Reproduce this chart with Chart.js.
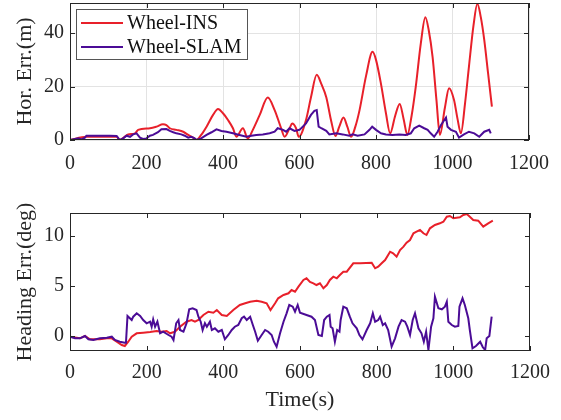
<!DOCTYPE html>
<html>
<head>
<meta charset="utf-8">
<script src="https://cdn.jsdelivr.net/npm/chart.js@4.4.0/dist/chart.umd.min.js"></script>
<style>
  html, body { margin: 0; padding: 0; background: #fff; overflow: hidden; }
  #wrap { position: relative; width: 561px; height: 420px; overflow: hidden; }
  .pane { position: absolute; left: 0; width: 561px; }
</style>
</head>
<body>
<div id="wrap">
  <div class="pane" style="top:-15px"><canvas id="horChart" width="561" height="200"></canvas></div>
  <div class="pane" style="top:190px"><canvas id="headChart" width="561" height="230"></canvas></div>
</div>
<script>
// tick labels
const timeTicks = [0, 200, 400, 600, 800, 1000, 1200];
const horTicks = [0, 20, 40];
const headTicks = [0, 5, 10];

// horizontal error (m)
const horInsTime = [0,43,122,130,143,152,170,178,209,226,243,252,261,278,296,309,322,330,343,357,374,387,400,413,426,435,452,465,478,496,517,535,552,561,574,581,591,598,617,630,645,657,670,683,694,704,715,725,735,746,757,774,791,800,813,826,837,850,862,872,882,893,904,917,929,938,948,958,967,980,991,1004,1013,1022,1033,1043,1055,1065,1074,1083,1093,1103];
const horIns = [0,1.2,1.2,0,1.2,2.1,2.5,3.8,4.4,5,5.9,5.6,4.4,3.8,3.1,1.9,0.9,0,1.9,5,9.4,11.6,10,7.5,4.4,1.2,4.4,0.6,3.8,9.4,15.9,11.2,4.4,1.2,4.4,6.2,4.4,1.2,7.5,16,24.4,21,16,7,1.5,5,8.4,5,1.2,5,11.2,24,33,30,21,10,2.5,9,13.5,8,1.9,9,20,36,46,41,31,15,1.9,12,19.4,15,8,2.5,14,27.5,43,51,46,37.5,25,12.5];
const horSlamTime = [0,13,22,30,39,43,104,122,130,139,148,157,165,174,183,191,200,209,217,230,239,252,261,270,278,291,300,309,317,326,330,343,357,370,383,396,409,426,443,461,474,487,504,522,535,543,557,565,574,587,600,617,630,639,645,650,657,670,678,696,713,730,739,752,770,783,790,800,813,826,843,861,878,891,900,913,926,935,943,952,961,970,983,987,996,1009,1017,1030,1043,1057,1070,1083,1096,1100];
const horSlam = [0,0.4,0.6,0.2,0.9,1.6,1.6,1.5,0,0.6,1.6,1.2,2.1,2.5,0.9,0.4,0.6,1.6,1.9,2.9,4,4.1,3.4,2.9,2.5,2.1,1.6,0.9,1.2,0.6,0,0.6,1.9,2.9,4,3.4,3.1,2.5,1.9,1.2,1.6,1.9,2.1,2.5,3.1,4.4,3.8,3.1,4.4,3.4,3.8,6.2,9.4,10.9,11.2,5,4.4,3.4,2.1,2.5,2.1,1.6,2.1,1.6,2.1,3.8,5,3.8,2.5,2.1,1.9,2.1,1.9,2.5,4.4,5.4,4.4,3.8,2.5,1.2,3.1,5.6,8.4,5,3.8,3.1,0.9,2.1,3.1,2.5,1.2,3.1,3.8,2.5];

// heading error (deg)
const headInsTime = [0,26,39,52,78,96,109,122,135,143,152,161,174,191,209,226,239,252,261,274,287,304,317,326,335,348,361,374,383,396,409,426,443,457,470,487,500,513,523,535,543,557,570,578,587,596,609,617,626,635,643,652,661,670,678,687,696,704,713,722,739,757,787,796,804,813,822,835,843,852,861,870,878,887,896,904,913,922,930,939,952,965,974,983,991,1000,1017,1026,1035,1043,1052,1065,1078,1091,1103];
const headIns = [-0.07,-0.23,0,-0.33,-0.33,-0.23,-0.23,-0.57,-0.9,-1.0,-0.57,-0.07,0.27,0.33,0.4,0.5,0.43,0.5,0.27,0.43,0.93,1.43,1.6,1.43,1.6,2.1,2.43,2.33,2.6,2.1,2.0,2.6,3.1,3.27,3.43,3.53,3.43,3.27,2.6,3.27,3.77,4.1,4.27,4.6,4.43,4.93,5.6,5.77,5.4,5.27,5.1,5.27,4.77,5.1,5.6,5.93,5.77,6.1,6.43,6.43,7.27,7.27,7.33,6.77,6.93,7.27,7.6,8.43,8.27,7.93,8.6,8.93,9.33,9.6,10.27,10.43,10.6,10.27,10.1,10.77,11.1,11.27,11.43,11.93,12.0,11.77,11.87,12.1,12.2,11.93,11.6,11.53,10.93,11.27,11.53];
const headSlamTime = [0,13,26,39,48,61,78,96,109,117,130,143,146,150,161,165,174,183,191,200,209,213,217,222,228,235,243,257,265,270,277,283,287,296,304,311,320,330,335,341,346,352,357,365,370,378,387,396,404,413,422,430,439,448,454,461,470,477,483,490,500,509,517,526,532,539,548,557,565,572,581,587,594,600,617,630,639,648,657,663,670,677,680,685,691,697,703,706,713,722,730,737,748,755,763,774,783,790,796,804,809,816,822,830,839,848,857,865,874,880,887,894,900,909,917,923,929,935,942,948,952,961,970,978,983,987,996,1004,1013,1016,1024,1030,1039,1043,1050,1059,1070,1077,1083,1087,1094,1100];
const headSlam = [-0.07,-0.23,-0.23,0,-0.33,-0.4,-0.23,-0.17,-0.07,-0.4,-0.57,-0.67,-0.67,2.0,1.6,1.93,2.27,2.0,1.6,1.27,1.43,0.93,1.67,0.93,1.43,0.27,0.43,0.1,-0.07,-0.4,1.27,1.6,0.6,0.43,1.27,2.67,2.77,2.6,1.93,1.43,0.6,1.27,0.93,1.43,0.6,0.77,0.43,0.6,-0.33,0.1,0.6,0.93,1.1,1.77,1.93,1.6,1.93,1.1,0.43,-0.47,0.1,0.6,0.43,0.1,-0.57,-1.07,0.27,1.43,2.27,3.1,2.93,2.43,3.1,2.33,2.1,1.93,1.6,0.1,0,1.6,1.93,2.1,0.93,0.77,-0.57,0.6,0.43,1.6,2.93,2.77,1.93,1.27,0.77,0.1,-0.33,0.6,1.27,2.27,1.43,1.6,1.93,1.1,1.27,0.6,-1.07,-0.23,0.93,1.6,1.43,0.93,0.1,1.6,2.27,0.77,0.27,-0.57,0.43,-1.4,0.93,1.77,3.93,2.77,2.67,2.93,3.43,1.43,1.1,0.93,1.0,2.93,3.77,3.1,1.77,0.6,-1.23,-1.0,-0.57,-1.13,-1.4,-0.23,0,1.93];

const RED = '#e8202a';
const PURPLE = '#4b0c96';
const FONT = '"Liberation Serif", "Times New Roman", serif';
const INK = '#262626';

function pts(t, v) {
  return t.map((x, i) => ({x: x, y: v[i]}));
}

// box around the axes with inward ticks like matlab
const frameTicks = {
  id: 'frameTicks',
  afterDatasetsDraw(chart) {
    const {ctx, chartArea: a, scales: {x, y}} = chart;
    ctx.save();
    ctx.strokeStyle = INK;
    ctx.lineWidth = 1;
    ctx.beginPath();
    x.ticks.forEach(t => {
      const px = Math.round(x.getPixelForValue(t.value)) + 0.5;
      ctx.moveTo(px, a.bottom); ctx.lineTo(px, a.bottom - 5);
      ctx.moveTo(px, a.top); ctx.lineTo(px, a.top + 5);
    });
    y.ticks.forEach(t => {
      const py = Math.round(y.getPixelForValue(t.value)) + 0.5;
      ctx.moveTo(a.left, py); ctx.lineTo(a.left + 5, py);
      ctx.moveTo(a.right, py); ctx.lineTo(a.right - 5, py);
    });
    ctx.stroke();
    ctx.strokeRect(Math.round(a.left) + 0.5, Math.round(a.top) + 0.5, Math.round(a.width) - 1, Math.round(a.height) - 1);
    ctx.restore();
  }
};

// legend box in the upper left corner of the axes
const boxLegend = {
  id: 'boxLegend',
  afterDraw(chart) {
    if (!chart.options.plugins.boxLegend) return;
    const {ctx, chartArea: a} = chart;
    const x0 = Math.round(a.left) + 6, y0 = Math.round(a.top) + 6;
    ctx.save();
    ctx.fillStyle = '#fff';
    ctx.fillRect(x0, y0, 171, 50);
    ctx.strokeStyle = '#555';
    ctx.lineWidth = 1;
    ctx.strokeRect(x0 + 0.5, y0 + 0.5, 171, 50);
    ctx.font = '20px ' + FONT;
    ctx.textBaseline = 'middle';
    chart.data.datasets.forEach((d, i) => {
      const cy = y0 + 14 + i * 24;
      ctx.strokeStyle = d.borderColor;
      ctx.lineWidth = 2;
      ctx.beginPath();
      ctx.moveTo(x0 + 5, cy);
      ctx.lineTo(x0 + 47, cy);
      ctx.stroke();
      ctx.fillStyle = '#111';
      ctx.fillText(d.label, x0 + 51, cy + 1);
    });
    ctx.restore();
  }
};

function makeChart(id, cfg) {
  return new Chart(document.getElementById(id), {
    type: 'line',
    data: {
      datasets: [
        {label: 'Wheel-INS', data: pts(cfg.insT, cfg.ins), borderColor: RED, borderWidth: 2,
         pointRadius: 0, order: 2, cubicInterpolationMode: cfg.smooth ? 'monotone' : 'default', tension: 0},
        {label: 'Wheel-SLAM', data: pts(cfg.slamT, cfg.slam), borderColor: PURPLE, borderWidth: 2,
         pointRadius: 0, order: 1, tension: 0}
      ]
    },
    options: {
      responsive: false,
      animation: false,
      layout: {padding: {top: cfg.padTop, right: 31, left: 0, bottom: 0}},
      plugins: {legend: {display: false}, tooltip: {enabled: false}, boxLegend: cfg.legend},
      scales: {
        x: {
          type: 'linear', min: 0, max: 1200,
          afterBuildTicks: s => { s.ticks = timeTicks.map(v => ({value: v})); },
          afterFit: s => { s.height = cfg.xHeight; },
          grid: {display: cfg.grid, color: '#e3e3e3', drawTicks: false},
          border: {display: false},
          ticks: {font: {family: FONT, size: 20}, color: INK, padding: cfg.xPad, maxRotation: 0, autoSkip: false,
                  callback: v => String(v)},
          title: {display: cfg.xTitle, text: 'Time(s)', font: {family: FONT, size: 22}, color: INK, padding: {top: 0, bottom: 7}}
        },
        y: {
          min: cfg.yMin, max: cfg.yMax,
          afterBuildTicks: s => { s.ticks = cfg.yTicks.map(v => ({value: v})); },
          afterFit: s => { s.width = 70; },
          grid: {display: cfg.grid, color: '#e3e3e3', drawTicks: false},
          border: {display: false},
          ticks: {font: {family: FONT, size: 20}, color: INK, padding: 6, callback: v => String(v)},
          title: {display: true, text: cfg.yTitle, font: {family: FONT, size: 22}, color: INK, padding: {top: 12, bottom: 0}}
        }
      }
    },
    plugins: [frameTicks, boxLegend]
  });
}

makeChart('horChart', {
  insT: horInsTime, ins: horIns, slamT: horSlamTime, slam: horSlam, smooth: true,
  padTop: 18, xHeight: 45, xPad: 12, grid: true, legend: true, xTitle: false,
  yMin: 0, yMax: 51.3, yTicks: horTicks, yTitle: 'Hor. Err.(m)'
});

makeChart('headChart', {
  insT: headInsTime, ins: headIns, slamT: headSlamTime, slam: headSlam, smooth: false,
  padTop: 23, xHeight: 69, xPad: 10, grid: false, legend: false, xTitle: true,
  yMin: -1.5, yMax: 12.3, yTicks: headTicks, yTitle: 'Heading Err.(deg)'
});
</script>
</body>
</html>
